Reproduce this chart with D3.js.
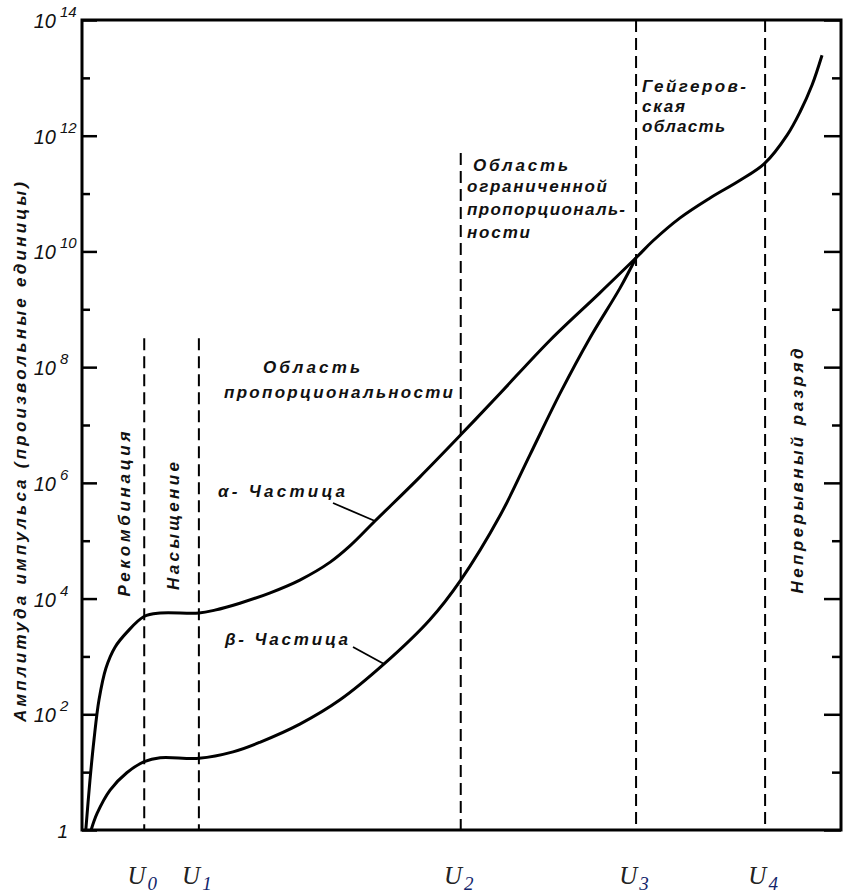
<!DOCTYPE html>
<html>
<head>
<meta charset="utf-8">
<script src="https://cdn.jsdelivr.net/npm/d3@7"></script>
<style>
  body { margin: 0; background: #fff; }
  .lbl { font-family: "Liberation Sans", Arial, sans-serif; font-style: italic; font-weight: bold; fill: #111; }
</style>
</head>
<body>
<div id="chart"></div>
<script>
// Voltage positions of the region borders (arbitrary units 0..100) and tops of the dashed lines (log10 amplitude)
let uNames = ["0", "1", "2", "3", "4"];
let uPos = [8.2, 15.4, 49.9, 73.0, 90.0];
let uTopExp = [8.5, 8.5, 11.7, 14, 14];

// alpha-particle curve: voltage and log10(amplitude)
let alphaV = [0.5, 1.05, 1.58, 2.24, 3.16, 4.35, 5.93, 8.17, 10.3, 15.4, 17.5, 20.8, 24.8, 28.7, 32.7, 35.3, 38.6, 44.5, 49.9, 55.1, 61.7, 68.2, 73.0, 75.2, 78.8, 82.7, 86.7, 90.0, 92.9, 94.6, 96.2, 97.5];
let alphaExp = [0, 0.86, 1.56, 2.25, 2.80, 3.16, 3.42, 3.69, 3.75, 3.75, 3.80, 3.92, 4.10, 4.32, 4.63, 4.91, 5.34, 6.10, 6.83, 7.55, 8.47, 9.28, 9.89, 10.18, 10.58, 10.92, 11.23, 11.53, 12.01, 12.41, 12.88, 13.39];

// beta-particle curve
let betaV = [1.2, 2.0, 3.7, 5.9, 8.2, 10.3, 15.4, 19.9, 23.5, 28.7, 34.0, 39.8, 45.8, 49.9, 55.1, 59.0, 63.0, 66.9, 70.9, 73.0];
let betaExp = [0, 0.29, 0.69, 0.99, 1.18, 1.25, 1.24, 1.35, 1.52, 1.83, 2.25, 2.87, 3.63, 4.32, 5.44, 6.48, 7.55, 8.50, 9.37, 9.89];

let majorExp = [0, 2, 4, 6, 8, 10, 12, 14];
let minorExp = [1, 3, 5, 7, 9, 11, 13];

let width = 847, height = 894;
let plotLeft = 82, plotRight = 841, plotTop = 20, plotBottom = 830;

let svg = d3.select("#chart")
  .append("svg")
  .attr("width", width)
  .attr("height", height)
  .style("display", "block");

svg.append("rect").attr("width", width).attr("height", height).attr("fill", "#fff");

// Scales
let x = d3.scaleLinear().domain([0, 100]).range([plotLeft, plotRight]);
let y = d3.scaleLog().domain([1, 1e14]).range([plotBottom, plotTop]);
let pow = e => Math.pow(10, e);

// frame
svg.append("rect")
  .attr("x", plotLeft).attr("y", plotTop)
  .attr("width", plotRight - plotLeft).attr("height", plotBottom - plotTop)
  .attr("fill", "none").attr("stroke", "#000").attr("stroke-width", 3);

// ticks, pointing inward on both sides
function ticks(axis, exps, size, tx) {
  let g = svg.append("g")
    .attr("transform", "translate(" + tx + ",0)")
    .call(axis(y).tickValues(exps.map(pow)).tickSize(-size).tickFormat(""));
  g.select(".domain").remove();
  g.selectAll("line").attr("stroke", "#000").attr("stroke-width", 2.5);
}
ticks(d3.axisLeft, majorExp, 15, plotLeft);
ticks(d3.axisLeft, minorExp, 8, plotLeft);
ticks(d3.axisRight, majorExp, 17, plotRight);
ticks(d3.axisRight, minorExp, 9, plotRight);

// y tick labels: 1, 10^2 ... 10^14
let tl = svg.append("g").attr("class", "ylabels");
majorExp.forEach(function(e) {
  let ty = y(pow(e));
  if (e === 0) {
    tl.append("text").attr("class", "lbl").style("font-weight", "normal")
      .attr("x", 68).attr("y", ty + 8).attr("text-anchor", "end")
      .attr("font-size", 19).text("1");
  } else {
    tl.append("text").attr("class", "lbl").style("font-weight", "normal")
      .attr("x", 56).attr("y", ty + 8).attr("text-anchor", "end")
      .attr("font-size", 20).text("10");
    tl.append("text").attr("class", "lbl").style("font-weight", "normal")
      .attr("x", 60).attr("y", ty - 3)
      .attr("font-size", 15).text(e);
  }
});

// dashed region borders
svg.append("g").attr("class", "vlines")
  .selectAll("line")
  .data(uPos)
  .join("line")
    .attr("x1", d => x(d))
    .attr("x2", d => x(d))
    .attr("y1", (d, i) => y(pow(uTopExp[i])))
    .attr("y2", plotBottom)
    .attr("stroke", "#000")
    .attr("stroke-width", 2)
    .attr("stroke-dasharray", "12,6");

// U labels
let ul = svg.append("g").attr("class", "ulabels");
uPos.forEach(function(d, i) {
  let t = ul.append("text")
    .attr("x", x(d) - 2).attr("y", 884)
    .attr("text-anchor", "middle")
    .style("font-family", "'Liberation Serif', 'Times New Roman', serif")
    .style("font-style", "italic")
    .attr("font-size", 25)
    .attr("fill", "#222");
  t.append("tspan").text("U");
  t.append("tspan").attr("dy", 6).attr("dx", 2).attr("font-size", 19).attr("fill", "#12256b").text(uNames[i]);
});

// curves
let line = d3.line()
  .x(d => x(d[0]))
  .y(d => y(pow(d[1])))
  .curve(d3.curveCatmullRom.alpha(0.5));

svg.append("path")
  .datum(alphaV.map((v, i) => [v, alphaExp[i]]))
  .attr("d", line)
  .attr("fill", "none").attr("stroke", "#000").attr("stroke-width", 3);

svg.append("path")
  .datum(betaV.map((v, i) => [v, betaExp[i]]))
  .attr("d", line)
  .attr("fill", "none").attr("stroke", "#000").attr("stroke-width", 3);

// text helpers
function label(txt, lx, ly, len, size) {
  svg.append("text").attr("class", "lbl")
    .attr("x", lx).attr("y", ly)
    .attr("font-size", size || 17)
    .attr("textLength", len).attr("lengthAdjust", "spacing")
    .text(txt);
}
function vlabel(txt, cx, cy, len, size) {
  svg.append("text").attr("class", "lbl")
    .attr("transform", "translate(" + cx + "," + cy + ") rotate(-90)")
    .attr("text-anchor", "middle")
    .attr("font-size", size || 17)
    .attr("textLength", len).attr("lengthAdjust", "spacing")
    .text(txt);
}

// axis title
vlabel("Амплитуда импульса (произвольные единицы)", 26, 452, 540, 17);

// region labels
vlabel("Рекомбинация", 130, 514, 165, 17);
vlabel("Насыщение", 179, 526, 128, 17);
vlabel("Непрерывный  разряд", 803, 471, 245, 17);

label("Область", 263, 373, 97);
label("пропорциональности", 224, 398, 229);

label("Область", 473, 171, 95);
label("ограниченной", 467, 192, 140);
label("пропорциональ-", 467, 215, 158);
label("ности", 467, 238, 63);

label("Гейгеров-", 642, 92, 104);
label("ская", 642, 112, 43);
label("область", 642, 132, 83);

label("α- Частица", 218, 497, 127);
label("β- Частица", 225, 645, 123);

// pointers from particle labels to curves
svg.append("line")
  .attr("x1", 333).attr("y1", 503)
  .attr("x2", x(38.6)).attr("y2", y(pow(5.34)))
  .attr("stroke", "#000").attr("stroke-width", 1.8);
svg.append("line")
  .attr("x1", 353).attr("y1", 647)
  .attr("x2", x(39.8)).attr("y2", y(pow(2.87)))
  .attr("stroke", "#000").attr("stroke-width", 1.8);
</script>
</body>
</html>
